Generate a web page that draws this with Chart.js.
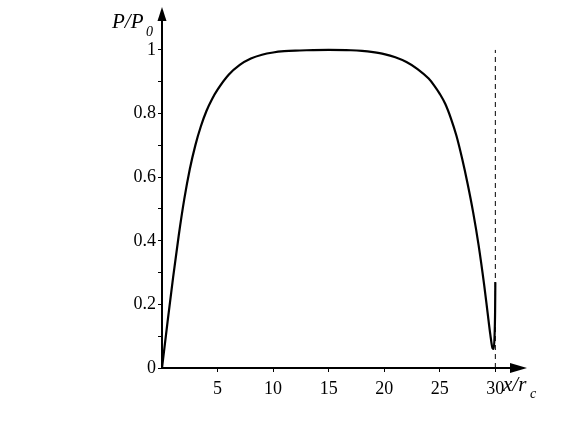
<!DOCTYPE html>
<html>
<head>
<meta charset="utf-8">
<script src="https://cdn.jsdelivr.net/npm/chart.js@4/dist/chart.umd.min.js"></script>
<style>
    body { margin: 0; background: #fff; }
    canvas { display: block; }
</style>
</head>
<body>
<canvas id="myChart" width="581" height="436"></canvas>
<script>

// P/P0 against x/rc
const xValues = [0, 0.5, 1, 1.5, 2, 2.5, 3, 3.5, 4, 4.5, 5, 6, 7, 8, 9, 10, 11, 12, 13, 15, 17, 18, 19, 20, 21, 22, 23, 24, 24.5, 25, 25.5, 26, 26.5, 27, 27.5, 28, 28.5, 29, 29.3, 29.55, 29.75, 29.85, 29.93, 29.98, 30.0];
const pValues = [0, 0.145, 0.285, 0.415, 0.53, 0.625, 0.70, 0.76, 0.808, 0.845, 0.875, 0.922, 0.953, 0.973, 0.985, 0.992, 0.996, 0.998, 0.999, 1.0, 0.999, 0.997, 0.993, 0.987, 0.977, 0.962, 0.94, 0.91, 0.888, 0.862, 0.83, 0.785, 0.73, 0.66, 0.58, 0.49, 0.385, 0.26, 0.175, 0.105, 0.062, 0.06, 0.10, 0.18, 0.27];

// dashed marker at x/rc = 30
const markerX = [30, 30];
const markerY = [0, 1];

const xTicks = [5, 10, 15, 20, 25, 30];
const yTicks = [0, 0.1, 0.2, 0.3, 0.4, 0.5, 0.6, 0.7, 0.8, 0.9, 1.0];
const yLabels = ["0", "", "0.2", "", "0.4", "", "0.6", "", "0.8", "", "1"];

const serif = "'Liberation Serif', 'Times New Roman', serif";

const axesPlugin = {
    id: 'axes',
    afterDraw(chart) {
        const ctx = chart.ctx;
        const a = chart.chartArea;
        ctx.save();
        ctx.strokeStyle = '#000';
        ctx.fillStyle = '#000';
        ctx.lineWidth = 2;

        // axis lines
        ctx.beginPath();
        ctx.moveTo(a.left, a.bottom);
        ctx.lineTo(a.right - 6, a.bottom);
        ctx.moveTo(a.left, a.bottom);
        ctx.lineTo(a.left, a.top + 6);
        ctx.stroke();

        // arrow heads
        ctx.beginPath();
        ctx.moveTo(a.right, a.bottom);
        ctx.lineTo(a.right - 17, a.bottom - 5);
        ctx.lineTo(a.right - 17, a.bottom + 5);
        ctx.closePath();
        ctx.fill();
        ctx.beginPath();
        ctx.moveTo(a.left, a.top);
        ctx.lineTo(a.left - 4.5, a.top + 14);
        ctx.lineTo(a.left + 4.5, a.top + 14);
        ctx.closePath();
        ctx.fill();

        // axis titles
        ctx.textBaseline = 'alphabetic';
        ctx.textAlign = 'left';
        ctx.font = 'italic 21px ' + serif;
        ctx.fillText('P/P', 112, 28);
        ctx.font = 'italic 14px ' + serif;
        ctx.fillText('0', 146, 36);

        ctx.font = 'italic 21px ' + serif;
        ctx.fillText('x/r', 503, 391);
        ctx.font = 'italic 14px ' + serif;
        ctx.fillText('c', 530, 398);
        ctx.restore();
    }
};

const ctx = document.getElementById('myChart');

new Chart(ctx, {
    type: 'line',
    data: {
        datasets: [
            {
                data: xValues.map((x, i) => ({ x: x, y: pValues[i] })),
                borderColor: '#000',
                borderWidth: 2.2,
                pointRadius: 0,
                cubicInterpolationMode: 'monotone',
                fill: false
            },
            {
                data: markerX.map((x, i) => ({ x: x, y: markerY[i] })),
                borderColor: '#000',
                borderWidth: 1,
                borderDash: [5, 4],
                pointRadius: 0,
                fill: false
            }
        ]
    },
    options: {
        responsive: false,
        animation: false,
        layout: {
            padding: { top: 7, right: 54, left: 0, bottom: 0 }
        },
        plugins: {
            legend: { display: false },
            tooltip: { enabled: false }
        },
        scales: {
            x: {
                type: 'linear',
                min: 0,
                max: 32.85,
                afterBuildTicks: (axis) => { axis.ticks = xTicks.map(v => ({ value: v })); },
                afterFit: (axis) => {
                    axis.height = 68;
                    axis.paddingLeft = 0;
                    axis.paddingRight = 0;
                },
                border: { display: false },
                grid: {
                    drawOnChartArea: false,
                    drawTicks: true,
                    tickLength: 4,
                    color: '#000',
                    lineWidth: 1
                },
                ticks: {
                    color: '#000',
                    padding: 6,
                    maxRotation: 0,
                    autoSkip: false,
                    font: { family: serif, size: 18 }
                }
            },
            y: {
                type: 'linear',
                min: 0,
                max: 1.135,
                afterBuildTicks: (axis) => { axis.ticks = yTicks.map(v => ({ value: v })); },
                afterFit: (axis) => {
                    axis.width = 162;
                    axis.paddingTop = 0;
                    axis.paddingBottom = 0;
                },
                border: { display: false },
                grid: {
                    drawOnChartArea: false,
                    drawTicks: true,
                    tickLength: 4,
                    color: '#000',
                    lineWidth: 1
                },
                ticks: {
                    color: '#000',
                    padding: 2,
                    autoSkip: false,
                    font: { family: serif, size: 18 },
                    callback: (value, index) => yLabels[index]
                }
            }
        }
    },
    plugins: [axesPlugin]
});
</script>
</body>
</html>
